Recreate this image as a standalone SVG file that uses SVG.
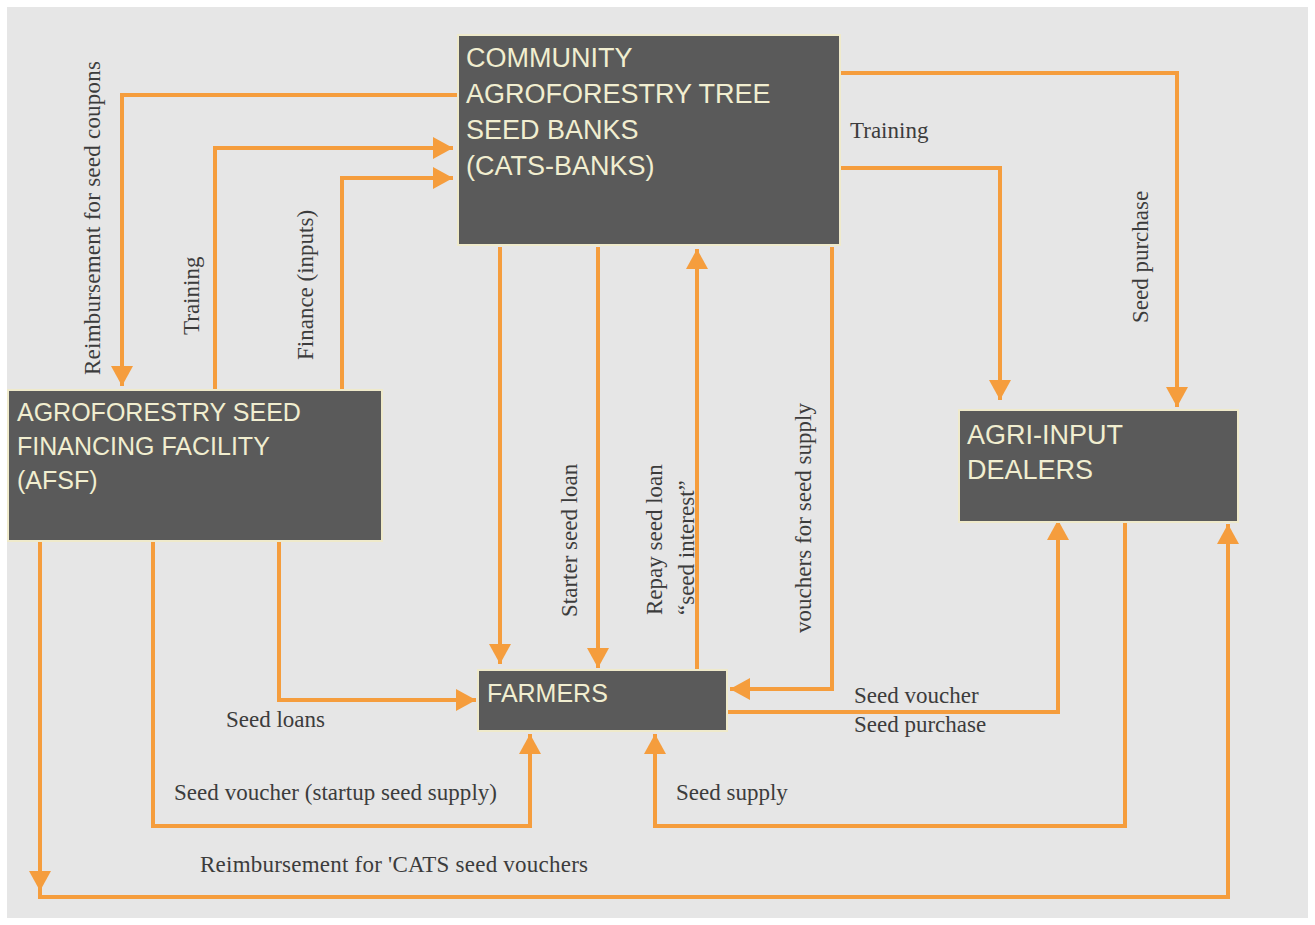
<svg xmlns="http://www.w3.org/2000/svg" width="1315" height="925" viewBox="0 0 1315 925">
<defs>
<marker id="arr" markerUnits="userSpaceOnUse" markerWidth="22" markerHeight="24" refX="20" refY="12" orient="auto">
<path d="M0,1 L20,12 L0,23 z" fill="#f59d3d"/>
</marker>
<style>
.box{fill:#5a5a5a;stroke:#efeacb;stroke-width:2}
.bt{font-family:"Liberation Sans",Arial,sans-serif;fill:#f1eed0}
.lbl{font-family:"Liberation Serif","Times New Roman",serif;font-size:23px;fill:#3c3c3c}
.c{fill:none;stroke:#f59d3d;stroke-width:4;stroke-linejoin:miter}
.ca{fill:none;stroke:#f59d3d;stroke-width:4;marker-end:url(#arr)}
</style>
</defs>
<rect x="0" y="0" width="1315" height="925" fill="#ffffff"/>
<rect x="7" y="7" width="1301" height="911" fill="#e6e6e6"/>

<g id="connectors">
<path class="ca" d="M458,95 H122 V386"/>
<path class="ca" d="M215,390 V148 H453"/>
<path class="ca" d="M342,390 V178 H453"/>
<path class="ca" d="M840,73 H1177 V407"/>
<path class="ca" d="M840,168 H1000 V400"/>
<path class="ca" d="M500,247 V664"/>
<path class="ca" d="M598,247 V668"/>
<path class="ca" d="M697,670 V249"/>
<path class="ca" d="M832,247 V689 H730"/>
<path class="ca" d="M727,712 H1058 V520"/>
<path class="ca" d="M1125,522 V826 H655 V734"/>
<path class="ca" d="M153,541 V826 H530 V734"/>
<path class="ca" d="M279,541 V700 H476"/>
<path class="ca" d="M40,541 V897 H1228 V524"/>
<path class="ca" d="M40,541 V891"/>
</g>

<g id="labels">
<text class="lbl" transform="translate(100,375) rotate(-90)" textLength="314" lengthAdjust="spacing">Reimbursement for seed coupons</text>
<text class="lbl" transform="translate(199,335) rotate(-90)">Training</text>
<text class="lbl" transform="translate(313,360) rotate(-90)">Finance (inputs)</text>
<text class="lbl" x="850" y="138">Training</text>
<text class="lbl" transform="translate(1148,323) rotate(-90)">Seed purchase</text>
<text class="lbl" transform="translate(577,617) rotate(-90)">Starter seed loan</text>
<text class="lbl" transform="translate(662,615) rotate(-90)">Repay seed loan</text>
<text class="lbl" transform="translate(694,615) rotate(-90)">“seed interest”</text>
<text class="lbl" transform="translate(811,633) rotate(-90)" textLength="230" lengthAdjust="spacing">vouchers for seed supply</text>
<text class="lbl" x="226" y="727">Seed loans</text>
<text class="lbl" x="174" y="800" textLength="323" lengthAdjust="spacing">Seed voucher (startup seed supply)</text>
<text class="lbl" x="200" y="872" textLength="388" lengthAdjust="spacing">Reimbursement for 'CATS seed vouchers</text>
<text class="lbl" x="854" y="703">Seed voucher</text>
<text class="lbl" x="854" y="732">Seed purchase</text>
<text class="lbl" x="676" y="800">Seed supply</text>
</g>

<g id="cats-banks">
<rect class="box" x="458" y="35" width="382" height="210"/>
<text class="bt" font-size="27" x="466" y="67">COMMUNITY</text>
<text class="bt" font-size="27" x="466" y="103">AGROFORESTRY TREE</text>
<text class="bt" font-size="27" x="466" y="139">SEED BANKS</text>
<text class="bt" font-size="27" x="466" y="175">(CATS-BANKS)</text>
</g>

<g id="afsf">
<rect class="box" x="8" y="390" width="374" height="151"/>
<text class="bt" font-size="25" x="17" y="421">AGROFORESTRY SEED</text>
<text class="bt" font-size="25" x="17" y="455">FINANCING FACILITY</text>
<text class="bt" font-size="25" x="17" y="489">(AFSF)</text>
</g>

<g id="agri-input-dealers">
<rect class="box" x="959" y="410" width="279" height="112"/>
<text class="bt" font-size="27" x="967" y="444">AGRI-INPUT</text>
<text class="bt" font-size="27" x="967" y="479">DEALERS</text>
</g>

<g id="farmers">
<rect class="box" x="478" y="670" width="249" height="61"/>
<text class="bt" font-size="25" x="487" y="702">FARMERS</text>
</g>
</svg>
